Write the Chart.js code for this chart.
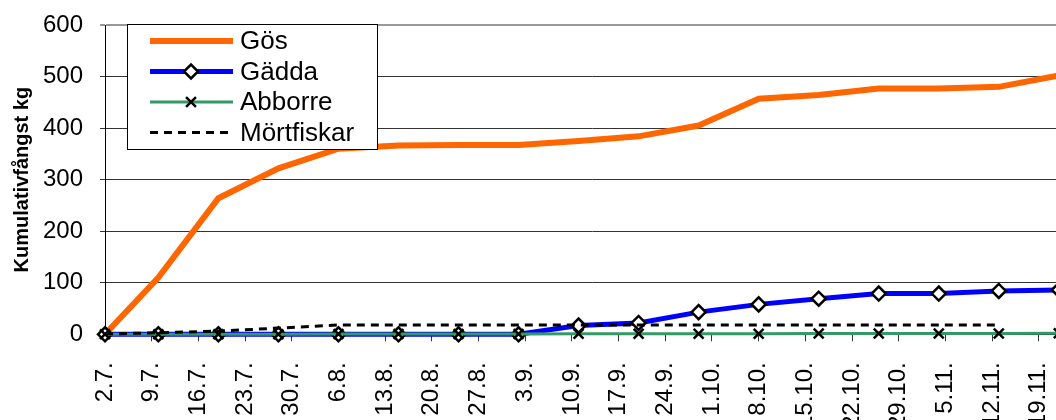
<!DOCTYPE html>
<html>
<head>
<meta charset="utf-8">
<script src="https://cdn.jsdelivr.net/npm/chart.js@4"></script>
<style>
  html, body { margin: 0; padding: 0; background: #fff; overflow: hidden; }
  #wrap { position: absolute; left: 0; top: 0; width: 1089px; height: 450px; }
</style>
</head>
<body>
<div id="wrap"><canvas id="fangstChart"></canvas></div>
<script>
// provdagar, räknat i dagar från 2.7.
const sampleDays = [0, 8, 17, 26, 35, 44, 53, 62, 71, 80, 89, 98, 107, 116, 125, 134, 143];
const tickLabels = ['2.7.', '9.7.', '16.7.', '23.7.', '30.7.', '6.8.', '13.8.', '20.8.', '27.8.', '3.9.',
    '10.9.', '17.9.', '24.9.', '1.10.', '8.10.', '15.10.', '22.10.', '29.10.', '5.11.', '12.11.', '19.11.'];

const gos = [0, 110, 264, 322, 360, 366, 367, 367, 375, 384, 405, 457, 464, 477, 477, 480, 502];
const gadda = [0, 0, 0, 0, 0, 0, 0, 0, 17, 22, 43, 58, 69, 79, 79, 84, 86];
const abborre = [0, 0, 0, 0, 0.5, 0.5, 0.5, 0.5, 1, 1, 1, 1, 1.5, 1.5, 1.5, 1.5, 2];
const mortfiskar = [0.5, 3, 6, 12, 18, 18, 18, 18, 18, 18, 18, 18, 18, 18, 18, 18, null];

const points = (values) => sampleDays.map((d, i) => ({x: d, y: values[i]}));

Chart.defaults.font.family = '"Liberation Sans", Arial, sans-serif';
Chart.defaults.color = '#000';

// legend box inside the plot, Excel style
const legendBox = {
    id: 'legendBox',
    afterDraw(chart) {
        const ctx = chart.ctx;
        ctx.save();
        ctx.fillStyle = '#fff';
        ctx.fillRect(127, 24, 250, 125);
        ctx.strokeStyle = '#000';
        ctx.lineWidth = 1;
        ctx.strokeRect(127.5, 24.5, 250, 125);
        chart.data.datasets.forEach((ds, i) => {
            const cy = 41 + i * 30.5;
            ctx.beginPath();
            ctx.setLineDash(ds.borderDash || []);
            ctx.strokeStyle = ds.borderColor;
            ctx.lineWidth = ds.borderWidth;
            ctx.moveTo(150, cy);
            ctx.lineTo(233, cy);
            ctx.stroke();
            ctx.setLineDash([]);
            if (ds.pointRadius > 0) {
                ctx.fillStyle = ds.pointBackgroundColor;
                ctx.strokeStyle = ds.pointBorderColor;
                ctx.lineWidth = ds.pointBorderWidth;
                Chart.helpers.drawPoint(ctx, {
                    pointStyle: ds.pointStyle, radius: ds.pointRadius,
                    borderWidth: ds.pointBorderWidth, rotation: 0,
                }, 191, cy);
            }
            ctx.fillStyle = '#000';
            ctx.font = '26px "Liberation Sans", Arial, sans-serif';
            ctx.textBaseline = 'middle';
            ctx.fillText(ds.label, 240, cy + 1);
        });
        ctx.restore();
    },
};

new Chart(document.getElementById('fangstChart'), {
    type: 'line',
    data: {
        datasets: [
            {
                label: 'Gös',
                data: points(gos),
                borderColor: '#ff6600',
                borderWidth: 6,
                pointRadius: 0,
                order: 4,
            },
            {
                label: 'Gädda',
                data: points(gadda),
                borderColor: '#0000ff',
                borderWidth: 5,
                pointStyle: 'rectRot',
                pointRadius: 7,
                pointBackgroundColor: '#fff',
                pointBorderColor: '#000',
                pointBorderWidth: 2.5,
                order: 3,
            },
            {
                label: 'Abborre',
                data: points(abborre),
                borderColor: '#339966',
                borderWidth: 3,
                pointStyle: 'crossRot',
                pointRadius: 7,
                pointBackgroundColor: '#000',
                pointBorderColor: '#000',
                pointBorderWidth: 2.5,
                order: 2,
            },
            {
                label: 'Mörtfiskar',
                data: points(mortfiskar),
                borderColor: '#000',
                borderWidth: 3,
                borderDash: [8, 6],
                pointRadius: 0,
                order: 1,
            },
        ],
    },
    options: {
        responsive: true,
        maintainAspectRatio: false,
        animation: false,
        layout: {padding: {left: 10, top: 25, right: 0, bottom: 0}},
        elements: {line: {tension: 0, borderJoinStyle: 'miter'}},
        datasets: {line: {clip: false}},
        plugins: {
            legend: {display: false},
            tooltip: {enabled: false},
        },
        scales: {
            x: {
                type: 'linear',
                min: 0,
                max: 146,
                afterBuildTicks: (scale) => {
                    scale.ticks = tickLabels.map((_, i) => ({value: i * 7}));
                },
                ticks: {
                    callback: (v, i) => tickLabels[i],
                    autoSkip: false,
                    maxRotation: 90,
                    minRotation: 90,
                    padding: 21,
                    font: {size: 24},
                },
                grid: {drawOnChartArea: false, tickLength: 7, color: '#333'},
                border: {color: '#000', width: 1},
            },
            y: {
                min: 0,
                max: 600,
                afterFit: (scale) => {
                    scale.width = 95;
                    scale.paddingTop = 0;
                    scale.paddingBottom = 0;
                },
                ticks: {stepSize: 100, padding: 17, font: {size: 24}},
                grid: {
                    color: (c) => (c.tick && c.tick.value === 600 ? '#999' : '#333'),
                    lineWidth: (c) => (c.tick && c.tick.value === 600 ? 2 : 1),
                    tickLength: 5,
                },
                border: {color: '#000', width: 1},
                title: {
                    display: true,
                    text: 'Kumulativfångst kg',
                    font: {size: 20, weight: 'bold'},
                    padding: {top: 0, bottom: 9},
                },
            },
        },
    },
    plugins: [legendBox],
});
</script>
</body>
</html>
